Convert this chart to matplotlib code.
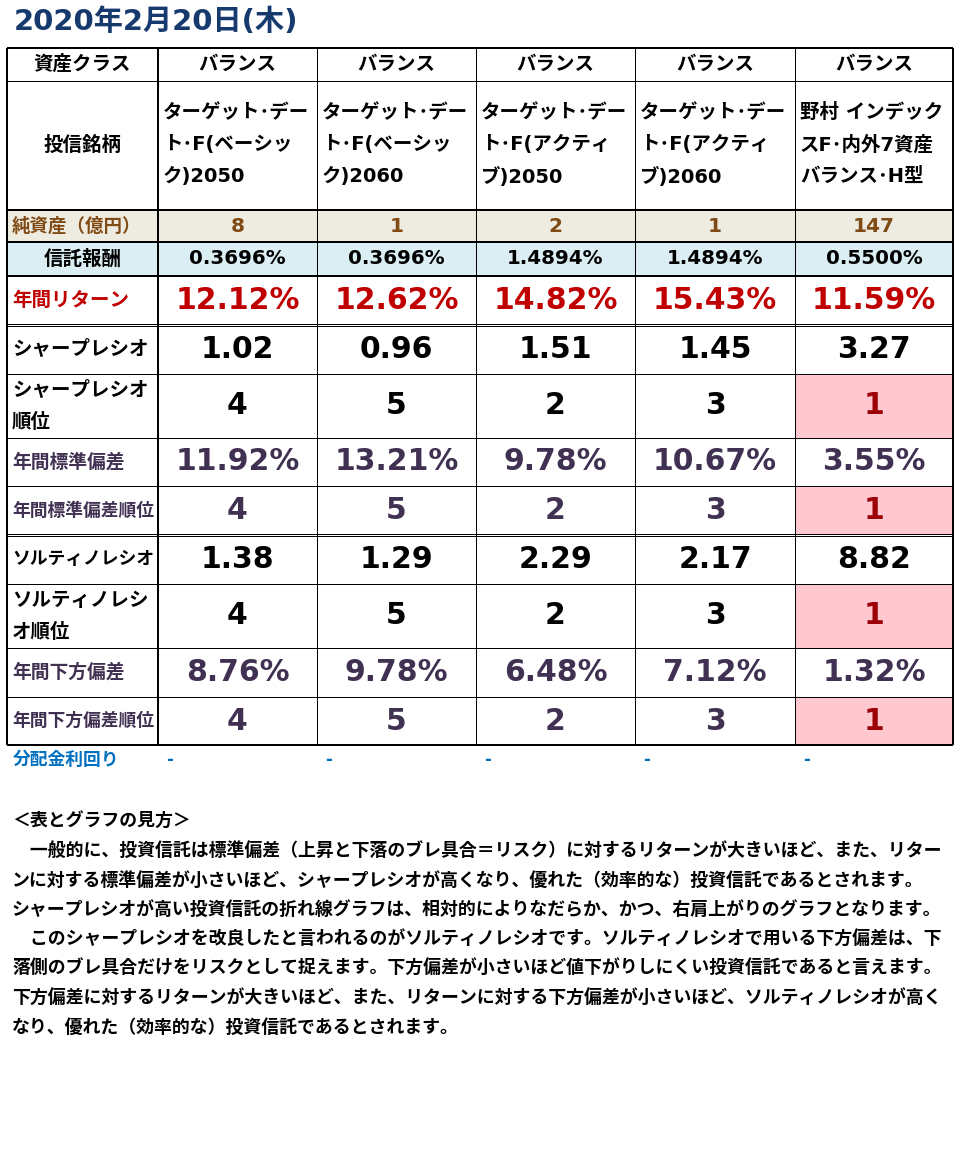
import matplotlib
matplotlib.use("Agg")
import matplotlib.pyplot as plt
from matplotlib.patches import Rectangle

plt.rcParams["font.family"] = ["Noto Sans CJK JP", "DejaVu Sans"]

# %% data
title = "2020年2月20日(木)"
asset_class = ["バランス", "バランス", "バランス", "バランス", "バランス"]
fund_names = [
    ["ターゲット･デー", "ト･F(ベーシッ", "ク)2050"],
    ["ターゲット･デー", "ト･F(ベーシッ", "ク)2060"],
    ["ターゲット･デー", "ト･F(アクティ", "ブ)2050"],
    ["ターゲット･デー", "ト･F(アクティ", "ブ)2060"],
    ["野村 インデック", "スF･内外7資産", "バランス･H型"],
]
net_assets = [8, 1, 2, 1, 147]
trust_fee = [0.3696, 0.3696, 1.4894, 1.4894, 0.5500]
annual_return = [12.12, 12.62, 14.82, 15.43, 11.59]
sharpe = [1.02, 0.96, 1.51, 1.45, 3.27]
sharpe_rank = [4, 5, 2, 3, 1]
std_dev = [11.92, 13.21, 9.78, 10.67, 3.55]
std_rank = [4, 5, 2, 3, 1]
sortino = [1.38, 1.29, 2.29, 2.17, 8.82]
sortino_rank = [4, 5, 2, 3, 1]
downside = [8.76, 9.78, 6.48, 7.12, 1.32]
downside_rank = [4, 5, 2, 3, 1]
dist_yield = ["-", "-", "-", "-", "-"]

notes = [
    "＜表とグラフの見方＞",
    "　一般的に、投資信託は標準偏差（上昇と下落のブレ具合＝リスク）に対するリターンが大きいほど、また、リター",
    "ンに対する標準偏差が小さいほど、シャープレシオが高くなり、優れた（効率的な）投資信託であるとされます。",
    "シャープレシオが高い投資信託の折れ線グラフは、相対的によりなだらか、かつ、右肩上がりのグラフとなります。",
    "　このシャープレシオを改良したと言われるのがソルティノレシオです。ソルティノレシオで用いる下方偏差は、下",
    "落側のブレ具合だけをリスクとして捉えます。下方偏差が小さいほど値下がりしにくい投資信託であると言えます。",
    "下方偏差に対するリターンが大きいほど、また、リターンに対する下方偏差が小さいほど、ソルティノレシオが高く",
    "なり、優れた（効率的な）投資信託であるとされます。",
]

# %% layout (pixels)
W, H = 961, 1162
col_edges = [7, 158, 317, 476, 635, 795, 953]
row_edges = [48, 81, 210, 242, 276, 325, 374, 438, 486, 535, 584, 648, 697, 745]
thick_rows = [48, 210, 242, 276, 745]
double_rows = [325, 535]
px = 0.72  # one pixel in points

RED = "#C00000"
PURPLE = "#403152"
BROWN = "#7F4A14"
NAVY = "#173A6E"
BLUE = "#0070C0"
RANK1_BG = "#FFC7CE"
RANK1_FG = "#9C0006"
NUMFONT = ["DejaVu Sans", "Noto Sans CJK JP"]

fig = plt.figure(figsize=(W / 100, H / 100), dpi=100)
ax = fig.add_axes([0, 0, 1, 1])
ax.set_xlim(0, W)
ax.set_ylim(H, 0)
ax.axis("off")

centers = [(col_edges[i] + col_edges[i + 1]) / 2 for i in range(len(col_edges) - 1)]
rows_mid = [(row_edges[i] + row_edges[i + 1]) / 2 for i in range(len(row_edges) - 1)]


def fill_row(r, color):
    ax.add_patch(Rectangle((col_edges[0], row_edges[r]), col_edges[-1] - col_edges[0],
                           row_edges[r + 1] - row_edges[r], color=color, lw=0, zorder=0))


def fill_cell(r, c, color):
    ax.add_patch(Rectangle((col_edges[c], row_edges[r]), col_edges[c + 1] - col_edges[c],
                           row_edges[r + 1] - row_edges[r], color=color, lw=0, zorder=0))


def label(r, text, color="black", size=14, center=False, dy=0):
    if center:
        ax.text(centers[0], rows_mid[r] + dy, text, ha="center", va="center",
                fontsize=size, fontweight="bold", color=color)
    else:
        ax.text(col_edges[0] + 5, rows_mid[r] + dy, text, ha="left", va="center",
                fontsize=size, fontweight="bold", color=color)


def values(r, texts, color="black", size=21, ranks=None):
    for c, t in enumerate(texts):
        col = color
        if ranks is not None and ranks[c] == 1:
            fill_cell(r, c + 1, RANK1_BG)
            col = RANK1_FG
        ax.text(centers[c + 1], rows_mid[r], t, ha="center", va="center",
                fontsize=size, fontweight="bold", color=col, family=NUMFONT)


# title
ax.text(14, 22, title, ha="left", va="center", fontsize=21, fontweight="bold",
        color=NAVY, family=NUMFONT)

# row backgrounds
fill_row(2, "#EEECE1")
fill_row(3, "#DAEEF3")

# header rows
label(0, "資産クラス", center=True)
for c, t in enumerate(asset_class):
    ax.text(centers[c + 1], rows_mid[0], t, ha="center", va="center",
            fontsize=14, fontweight="bold")
label(1, "投信銘柄", center=True)
for c, lines in enumerate(fund_names):
    for k, t in enumerate(lines):
        ax.text(col_edges[c + 1] + 5, rows_mid[1] - 33 + 32 * k, t, ha="left",
                va="center", fontsize=14, fontweight="bold", family=NUMFONT)

label(2, "純資産（億円）", color=BROWN, size=13.3)
values(2, [str(v) for v in net_assets], color=BROWN, size=14.5)
label(3, "信託報酬", center=True)
values(3, [f"{v:.4f}%" for v in trust_fee], size=14.3)
label(4, "年間リターン", color=RED)
values(4, [f"{v:.2f}%" for v in annual_return], color=RED, size=21.5)

label(5, "シャープレシオ")
values(5, [f"{v:.2f}" for v in sharpe], size=21.5)
label(6, "シャープレシオ", dy=-16)
label(6, "順位", dy=16)
values(6, [str(v) for v in sharpe_rank], size=21.5, ranks=sharpe_rank)
label(7, "年間標準偏差", color=PURPLE, size=13.5)
values(7, [f"{v:.2f}%" for v in std_dev], color=PURPLE, size=21.5)
label(8, "年間標準偏差順位", color=PURPLE, size=12.8)
values(8, [str(v) for v in std_rank], color=PURPLE, size=21.5, ranks=std_rank)

label(9, "ソルティノレシオ", size=12.8)
values(9, [f"{v:.2f}" for v in sortino], size=21.5)
label(10, "ソルティノレシ", dy=-16)
label(10, "オ順位", dy=16)
values(10, [str(v) for v in sortino_rank], size=21.5, ranks=sortino_rank)
label(11, "年間下方偏差", color=PURPLE, size=13.5)
values(11, [f"{v:.2f}%" for v in downside], color=PURPLE, size=21.5)
label(12, "年間下方偏差順位", color=PURPLE, size=12.8)
values(12, [str(v) for v in downside_rank], color=PURPLE, size=21.5, ranks=downside_rank)

# grid lines
for y in row_edges:
    if y in double_rows:
        ax.hlines([y - 1.5, y + 1], col_edges[0], col_edges[-1], color="black", lw=px)
    else:
        ax.hlines(y, col_edges[0], col_edges[-1], color="black",
                  lw=2 * px if y in thick_rows else px)
for i, x in enumerate(col_edges):
    thick = i in (0, 1, len(col_edges) - 1)
    ax.vlines(x, row_edges[0], row_edges[-1], color="black", lw=2 * px if thick else px)

# yield row under table
ax.text(13, 760, "分配金利回り", ha="left", va="center", fontsize=12.8,
        fontweight="bold", color=BLUE)
for c, t in enumerate(dist_yield):
    ax.text(col_edges[c + 1] + 8, 760, t, ha="left", va="center", fontsize=12,
            fontweight="bold", color=BLUE, family=NUMFONT)

# notes
for k, line in enumerate(notes):
    ax.text(12, 822 + 29.4 * k, line, ha="left", va="center", fontsize=12.9,
            fontweight="bold", color="black")

fig.savefig("out.png", dpi=100, facecolor="w")
